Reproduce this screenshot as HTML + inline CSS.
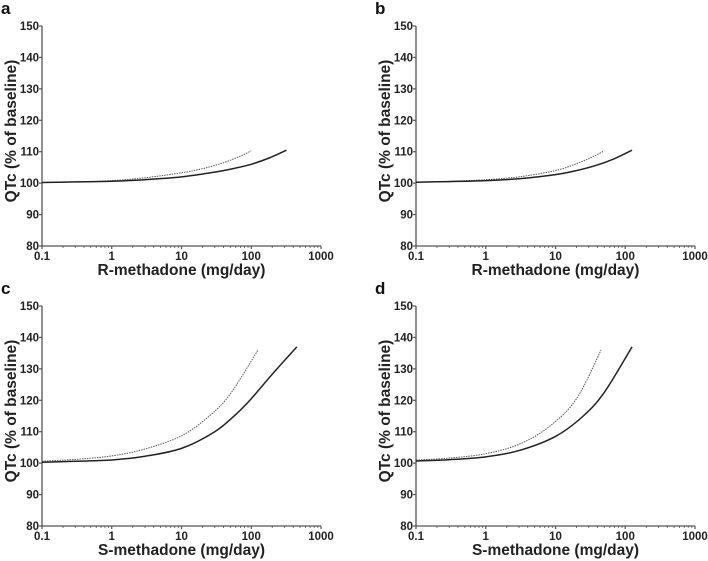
<!DOCTYPE html>
<html><head><meta charset="utf-8"><style>
body{margin:0;background:#fff;}
svg{display:block;font-family:"Liberation Sans",Arial,sans-serif;}
</style></head><body>
<svg id="chart" width="708" height="561" viewBox="0 0 708 561"></svg>
<script>
const yTicks=[80,90,100,110,120,130,140,150];
const xTicks=[0.1,1,10,100,1000];
const xTickLabels=["0.1","1","10","100","1000"];
const panelLetters=["a","b","c","d"];
const panelXLabels=["R-methadone (mg/day)","R-methadone (mg/day)","S-methadone (mg/day)","S-methadone (mg/day)"];
const aSolidX=[0.1,0.3,1,3,10,30,60,100,180,320];
const aSolidY=[100.2,100.4,100.6,101.1,102,103.5,104.8,106,108,110.5];
const aDotX=[0.1,0.3,1,3,10,20,40,70,100];
const aDotY=[100.2,100.4,100.8,101.7,103.3,104.6,106.5,108.6,110.3];
const bSolidX=[0.1,0.3,1,3,10,20,40,70,125];
const bSolidY=[100.3,100.5,100.8,101.4,102.7,104,105.8,107.8,110.5];
const bDotX=[0.1,0.3,1,3,10,20,35,50];
const bDotY=[100.3,100.6,101.1,102,104,106.2,108.5,110.3];
const cSolidX=[0.1,0.3,1,3,10,30,60,100,200,450];
const cSolidY=[100.3,100.6,101,102.2,104.7,110,115.5,120.5,128.3,137];
const cDotX=[0.1,0.3,1,3,10,25,50,125];
const cDotY=[100.6,101.2,102.3,104.5,108.7,115,122,136];
const dSolidX=[0.1,0.3,1,3,10,25,50,125];
const dSolidY=[100.7,101.1,102,104,108.5,115,122.5,137];
const dDotX=[0.1,0.3,1,3,8,20,45];
const dDotY=[101,101.6,103,106,111.5,120.5,136];
const panels=[
 {ox:0,oy:0,s:[aSolidX,aSolidY],d:[aDotX,aDotY]},
 {ox:374,oy:0,s:[bSolidX,bSolidY],d:[bDotX,bDotY]},
 {ox:0,oy:280,s:[cSolidX,cSolidY],d:[cDotX,cDotY]},
 {ox:374,oy:280,s:[dSolidX,dSolidY],d:[dDotX,dDotY]}
];
const NS="http://www.w3.org/2000/svg";
const svg=document.getElementById('chart');
function mk(t,a,p){const e=document.createElementNS(NS,t);for(const k in a)e.setAttribute(k,a[k]);p.appendChild(e);return e;}
function smooth(pts){let d="M"+pts[0][0]+","+pts[0][1];
 for(let i=0;i<pts.length-1;i++){const p0=pts[Math.max(0,i-1)],p1=pts[i],p2=pts[i+1],p3=pts[Math.min(pts.length-1,i+2)];
  const c1=[p1[0]+(p2[0]-p0[0])/6,p1[1]+(p2[1]-p0[1])/6],c2=[p2[0]-(p3[0]-p1[0])/6,p2[1]-(p3[1]-p1[1])/6];
  d+=" C"+c1[0].toFixed(2)+","+c1[1].toFixed(2)+" "+c2[0].toFixed(2)+","+c2[1].toFixed(2)+" "+p2[0].toFixed(2)+","+p2[1].toFixed(2);}
 return d;}
panels.forEach((P,i)=>{
 const g=mk('g',{},svg);
 
 
 const x0=42+P.ox,x1=321+P.ox,yT=26+P.oy,yB=246+P.oy;
 const xs=v=>x0+(Math.log10(v)+1)/4*(x1-x0);
 const ys=v=>yB-(v-80)/70*(yB-yT);
 const lt=mk('text',{x:P.ox+1,y:P.oy+14,'font-size':17,'font-weight':'bold',fill:'#111'},g);lt.textContent=panelLetters[i];
 
 const ya=mk('line',{x1:x0,y1:yT,x2:x0,y2:yB,stroke:'#555','stroke-width':1.3},g);
 
 const xa=mk('line',{x1:x0,y1:yB,x2:x1,y2:yB,stroke:'#555','stroke-width':1.3},g);
 
 yTicks.forEach(v=>{mk('line',{x1:x0-3,y1:ys(v),x2:x0,y2:ys(v),stroke:'#555','stroke-width':1.2},g);
  const t=mk('text',{x:x0-3,y:ys(v)+4,'font-size':11.5,'font-weight':'bold','text-anchor':'end',fill:'#222'},g);t.textContent=v;
  });
 for(let dec=0;dec<4;dec++){for(let m=2;m<=9;m++){const v=Math.pow(10,dec-1)*m;mk('line',{x1:xs(v),y1:yB,x2:xs(v),y2:yB+2,stroke:'#555','stroke-width':0.8},g);}}
 xTicks.forEach((v,j)=>{mk('line',{x1:xs(v),y1:yB,x2:xs(v),y2:yB+3,stroke:'#555','stroke-width':1.2},g);
  const t=mk('text',{x:xs(v),y:yB+14,'font-size':11.5,'font-weight':'bold','text-anchor':'middle',fill:'#222'},g);t.textContent=xTickLabels[j];
  });
 const xt=mk('text',{x:(x0+x1)/2,y:yB+29,'font-size':15.5,'font-weight':'bold','text-anchor':'middle',fill:'#222'},g);xt.textContent=panelXLabels[i];
 
 const cy=(yT+yB)/2-5, tx=x0-26;
 const yt=mk('text',{x:tx,y:cy,'font-size':15.5,'font-weight':'bold','text-anchor':'middle',fill:'#222',transform:'rotate(-90 '+tx+' '+cy+')'},g);yt.textContent="QTc (% of baseline)";
 
 const dp=P.d[0].map((v,k)=>[xs(v),ys(P.d[1][k])]);
 const dl=mk('path',{d:smooth(dp),fill:'none',stroke:'#555','stroke-width':1,'stroke-dasharray':'1.5,1'},g);
 
 const sp=P.s[0].map((v,k)=>[xs(v),ys(P.s[1][k])]);
 const sl=mk('path',{d:smooth(sp),fill:'none',stroke:'#222','stroke-width':1.5},g);
 
});
</script>
</body></html>
